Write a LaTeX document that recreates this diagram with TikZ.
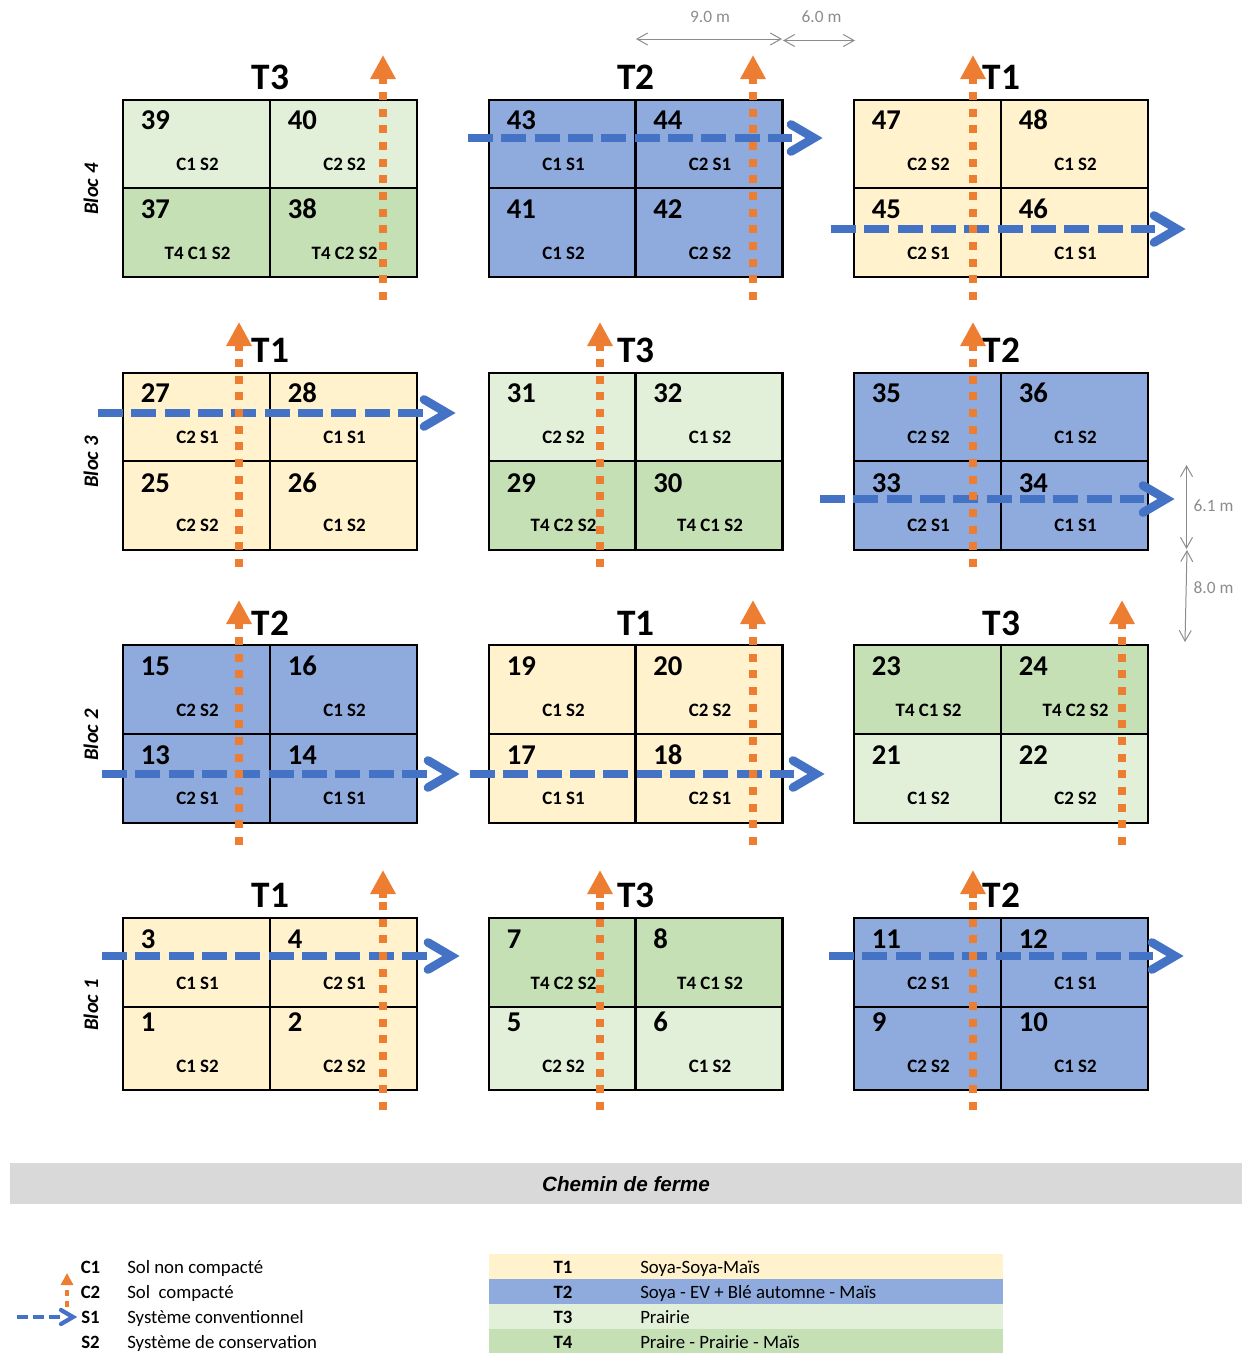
\documentclass[tikz,border=0pt]{standalone}
\usepackage{fontspec}
\setmainfont{Carlito}
\newfontfamily\arialfont{Liberation Sans}
\usetikzlibrary{arrows.meta}
\definecolor{tone}{HTML}{FFF2CC}
\definecolor{ttwo}{HTML}{8FAADC}
\definecolor{tthree}{HTML}{E2F0D9}
\definecolor{tfour}{HTML}{C5E0B4}
\definecolor{blueline}{HTML}{4472C4}
\definecolor{orangeline}{HTML}{ED7D31}
\definecolor{dimgray}{HTML}{8C8C8C}
\tikzset{
  cellbox/.style={draw=black,line width=1.9pt,outer sep=0pt,inner sep=0pt,minimum width=110.25pt},
  numlabel/.style={font=\bfseries\fontsize{21.5}{21.5}\selectfont,anchor=base west,inner sep=0pt},
  codelabel/.style={font=\bfseries\fontsize{14.2}{15}\selectfont,anchor=base,inner sep=0pt},
  titlelabel/.style={font=\bfseries\fontsize{28}{28}\selectfont,anchor=center,inner sep=0pt},
  bloclabel/.style={font=\bfseries\itshape\fontsize{15.5}{15.5}\selectfont,rotate=90,inner sep=0pt},
  dimlabel/.style={font=\fontsize{13}{13}\selectfont,text=dimgray,inner sep=0pt},
  dimline/.style={draw=dimgray,line width=0.75pt,{Straight Barb[length=8pt,width=9pt]}-{Straight Barb[length=8pt,width=9pt]}},
  bluedash/.style={draw=blueline,line width=6pt,dash pattern=on 18.75pt off 6.25pt},
  bluehead/.style={draw=blueline,line width=6.5pt,line cap=round,line join=miter},
  orangedash/.style={draw=orangeline,line width=6pt,dash pattern=on 6pt off 6.5pt},
  orangehead/.style={draw=orangeline,line width=6pt,-{Triangle[length=18pt,width=18pt]}},
  legendkey/.style={font=\bfseries\fontsize{14.1}{15}\selectfont,anchor=base,inner sep=0pt},
  legendtext/.style={font=\fontsize{14.1}{15}\selectfont,anchor=base west,inner sep=0pt},
  legendband/.style={inner sep=0pt,outer sep=0pt,minimum width=385.5pt,minimum height=18.75pt}
}
\newcommand{\orangearrow}[4]{%
  \coordinate (o#1b) at (#2,#4);
  \coordinate (o#1n) at (#2,#3+28);
  \coordinate (o#1t) at (#2,#3);
  \draw[orangedash] (o#1b) -- (o#1n);
  \draw[orangehead] (o#1n) -- (o#1t);}
\newcommand{\bluearrow}[4]{%
  \coordinate (b#1s) at (#2,#4);
  \coordinate (b#1n) at (#3-31,#4);
  \coordinate (b#1v) at (#3-9,#4);
  \coordinate (b#1u) at (#3-32,#4-13.5);
  \coordinate (b#1d) at (#3-32,#4+13.5);
  \draw[bluedash] (b#1s) -- (b#1n);
  \draw[bluehead] (b#1u) -- (b#1v) -- (b#1d);}
\begin{document}
\begin{tikzpicture}[x=0.75pt,y=-0.75pt]
\useasboundingbox (0,0) rectangle (1242,1353);
% cells
\foreach \xl/\yt/\yb/\st/\n/\lab/\bn/\bl in {
 123/100/188/tthree/39/C1 S2/29/70, 270/100/188/tthree/40/C2 S2/29/70,
 123/188/277/tfour/37/T4 C1 S2/30.5/71, 270/188/277/tfour/38/T4 C2 S2/30.5/71,
 489/100/188/ttwo/43/C1 S1/29/70, 635.5/100/188/ttwo/44/C2 S1/29/70,
 489/188/277/ttwo/41/C1 S2/30.5/71, 635.5/188/277/ttwo/42/C2 S2/30.5/71,
 854/100/188/tone/47/C2 S2/29/70, 1001/100/188/tone/48/C1 S2/29/70,
 854/188/277/tone/45/C2 S1/30.5/71, 1001/188/277/tone/46/C1 S1/30.5/71,
 123/373/461/tone/27/C2 S1/29/70, 270/373/461/tone/28/C1 S1/29/70,
 123/461/550/tone/25/C2 S2/31/70, 270/461/550/tone/26/C1 S2/31/70,
 489/373/461/tthree/31/C2 S2/29/70, 635.5/373/461/tthree/32/C1 S2/29/70,
 489/461/550/tfour/29/T4 C2 S2/31/70, 635.5/461/550/tfour/30/T4 C1 S2/31/70,
 854/373/461/ttwo/35/C2 S2/29/70, 1001/373/461/ttwo/36/C1 S2/29/70,
 854/461/550/ttwo/33/C2 S1/31/70, 1001/461/550/ttwo/34/C1 S1/31/70,
 123/645/734/ttwo/15/C2 S2/30/71, 270/645/734/ttwo/16/C1 S2/30/71,
 123/734/823/ttwo/13/C2 S1/30/70, 270/734/823/ttwo/14/C1 S1/30/70,
 489/645/734/tone/19/C1 S2/30/71, 635.5/645/734/tone/20/C2 S2/30/71,
 489/734/823/tone/17/C1 S1/30/70, 635.5/734/823/tone/18/C2 S1/30/70,
 854/645/734/tfour/23/T4 C1 S2/30/71, 1001/645/734/tfour/24/T4 C2 S2/30/71,
 854/734/823/tthree/21/C1 S2/30/70, 1001/734/823/tthree/22/C2 S2/30/70,
 123/918/1007/tone/3/C1 S1/30/71, 270/918/1007/tone/4/C2 S1/30/71,
 123/1007/1090/tone/1/C1 S2/24/65, 270/1007/1090/tone/2/C2 S2/24/65,
 489/918/1007/tfour/7/T4 C2 S2/30/71, 635.5/918/1007/tfour/8/T4 C1 S2/30/71,
 489/1007/1090/tthree/5/C2 S2/24/65, 635.5/1007/1090/tthree/6/C1 S2/24/65,
 854/918/1007/ttwo/11/C2 S1/30/71, 1001/918/1007/ttwo/12/C1 S1/30/71,
 854/1007/1090/ttwo/9/C2 S2/24/65, 1001/1007/1090/ttwo/10/C1 S2/24/65}{
  \pgfmathsetmacro{\hh}{(\yb-\yt)*0.75}
  \node[cellbox,fill=\st,minimum height=\hh pt] (c\n) at (\xl+73.5,{(\yt+\yb)/2}) {};
  \node[numlabel] (n\n) at (\xl+17.5,\yt+\bn) {\n};
  \node[codelabel] (l\n) at (\xl+74.5,\yt+\bl) {\lab};
}
% titles
\foreach \nm/\x/\y/\txt in {
 a/270/77/T3, b/635.5/77/T2, c/1001/77/T1,
 d/270/350/T1, e/635.5/350/T3, f/1001/350/T2,
 g/270/623/T2, h/635.5/623/T1, i/1001/623/T3,
 j/270/895/T1, k/635.5/895/T3, l/1001/895/T2}{
  \node[titlelabel] (title\nm) at (\x+0.5,\y) {\txt};
}
% bloc labels
\node[bloclabel] (bloc4) at (91,189) {Bloc 4};
\node[bloclabel] (bloc3) at (91,462) {Bloc 3};
\node[bloclabel] (bloc2) at (91,735) {Bloc 2};
\node[bloclabel] (bloc1) at (91,1005) {Bloc 1};
% blue arrows under the orange ones
\bluearrow{b}{831}{1186}{229}
\bluearrow{c}{98}{456}{413}
\bluearrow{d}{820}{1175}{499}
\bluearrow{e}{102}{460}{774}
\bluearrow{f}{470}{825}{774}
\bluearrow{g}{102}{460}{956}
\bluearrow{h}{829}{1184}{956}
% orange arrows
\orangearrow{a}{383}{55}{300}
\orangearrow{b}{753}{55}{300}
\orangearrow{c}{973}{55}{300}
\orangearrow{d}{239}{322}{567}
\orangearrow{e}{600}{322}{567}
\orangearrow{f}{973}{322}{567}
\orangearrow{g}{239}{600}{845}
\orangearrow{h}{753}{600}{845}
\orangearrow{i}{1122}{600}{845}
\orangearrow{j}{383}{870}{1110}
\orangearrow{k}{600}{870}{1110}
\orangearrow{l}{973}{870}{1110}
% blue arrow over the orange one
\bluearrow{a}{468}{823}{138}
% dimensions
\coordinate (dA) at (636,39);
\coordinate (dB) at (782,39);
\coordinate (dC) at (783,40.5);
\coordinate (dD) at (855,40.5);
\coordinate (dE) at (1186.5,465);
\coordinate (dF) at (1186.5,549);
\coordinate (dG) at (1187,550);
\coordinate (dH) at (1185,642);
\draw[dimline] (dA) -- (dB);
\draw[dimline] (dC) -- (dD);
\draw[dimline] (dE) -- (dF);
\draw[dimline] (dG) -- (dH);
\node[dimlabel] (d9) at (710,17) {9.0 m};
\node[dimlabel] (d6) at (821.5,17) {6.0 m};
\node[dimlabel] (d61) at (1213.5,506) {6.1 m};
\node[dimlabel] (d8) at (1213.5,588) {8.0 m};
% road
\node[fill=black!15,inner sep=0pt,outer sep=0pt,minimum width=924pt,minimum height=30.75pt] (road) at (626,1183.5) {};
\node[font=\arialfont\bfseries\itshape\fontsize{15.5}{15.5}\selectfont,inner sep=0pt] (roadtext) at (626,1184) {Chemin de ferme};
% legend left
\foreach \nm/\y/\k/\txt in {cone/1273/C1/Sol non compacté, ctwo/1298/C2/Sol\ \ compacté, sone/1323/S1/Système conventionnel, stwo/1348/S2/Système de conservation}{
  \node[legendkey] (k\nm) at (90.5,\y) {\k};
  \node[legendtext] (t\nm) at (127,\y) {\txt};
}
\coordinate (lob) at (67,1307);
\coordinate (lon) at (67,1285);
\coordinate (lot) at (67,1273);
\draw[draw=orangeline,line width=3pt,dash pattern=on 4.5pt off 4pt] (lob) -- (lon);
\draw[draw=orangeline,line width=3pt,-{Triangle[length=9pt,width=9pt]}] (lon) -- (lot);
\coordinate (lbs) at (17,1317);
\coordinate (lbn) at (62,1317);
\coordinate (lbv) at (73,1317);
\coordinate (lbu) at (61,1310);
\coordinate (lbd) at (61,1324);
\draw[draw=blueline,line width=3pt,dash pattern=on 8.25pt off 3.75pt] (lbs) -- (lbn);
\draw[bluehead,line width=3.2pt] (lbu) -- (lbv) -- (lbd);
% legend right
\foreach \nm/\y/\yt/\st/\k/\txt in {
 one/1266.5/1273/tone/T1/Soya-Soya-Maïs,
 two/1291.5/1298/ttwo/T2/Soya - EV + Blé automne - Maïs,
 three/1316.5/1323/tthree/T3/Prairie,
 four/1341/1348.5/tfour/T4/Praire - Prairie - Maïs}{
  \node[legendband,fill=\st] (band\nm) at (746,\y) {};
  \node[legendkey] (key\nm) at (563,\yt) {\k};
  \node[legendtext] (txt\nm) at (640,\yt) {\txt};
}
\end{tikzpicture}
\end{document}
